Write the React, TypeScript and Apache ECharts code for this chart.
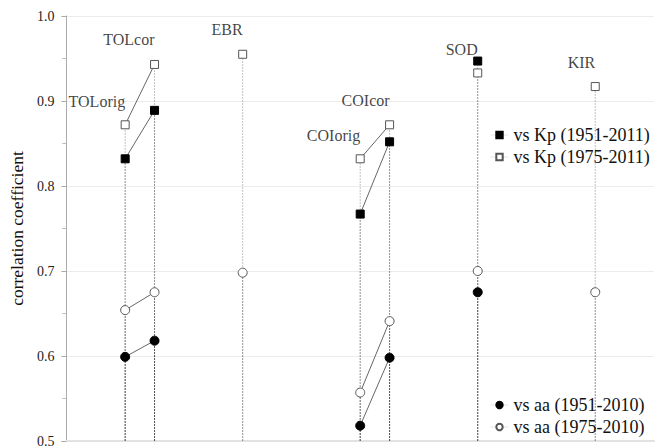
import React, { useEffect, useRef } from "react";
import * as echarts from "echarts";

const stations = ["TOLorig", "TOLcor", "EBR", "COIorig", "COIcor", "SOD", "KIR"];
const groups = ["TOL", "TOL", "EBR", "COI", "COI", "SOD", "KIR"];
const xPos = [2, 3, 6, 10, 11, 14, 18];
const labelY = [0.9, 0.972, 0.984, 0.86, 0.901, 0.961, 0.945];

const kp51 = [0.832, 0.889, null, 0.767, 0.852, 0.947, null];
const kp75 = [0.872, 0.943, 0.955, 0.832, 0.872, 0.933, 0.917];
const aa51 = [0.599, 0.618, null, 0.518, 0.598, 0.675, null];
const aa75 = [0.654, 0.675, 0.698, 0.557, 0.641, 0.7, 0.675];

const seriesNames = [
  "vs Kp (1951-2011)",
  "vs Kp (1975-2011)",
  "vs aa (1951-2010)",
  "vs aa (1975-2010)",
];
const yTicks = [0.5, 0.6, 0.7, 0.8, 0.9, 1.0];

const FONT = "Liberation Serif";

function lineData(vals: (number | null)[]) {
  const out: any[] = [];
  vals.forEach((v, i) => {
    if (v == null) return;
    out.push([xPos[i], v]);
    if (i === vals.length - 1 || groups[i + 1] !== groups[i]) {
      out.push([xPos[i] + 0.5, "-"]);
    }
  });
  return out;
}

function dropData(vals: (number | null)[]) {
  const out: any[] = [];
  vals.forEach((v, i) => {
    if (v == null) return;
    out.push([xPos[i], yTicks[0]]);
    out.push([xPos[i], v]);
    out.push([xPos[i], "-"]);
  });
  return out;
}

export default function App() {
  const ref = useRef<HTMLDivElement>(null);
  useEffect(() => {
    if (!ref.current) return;
    const chart = echarts.init(ref.current, undefined, { renderer: "svg" });
    const allVals = [kp51, kp75, aa51, aa75];
    const styles = [
      { symbol: "rect", size: 8, filled: true },
      { symbol: "rect", size: 8, filled: false },
      { symbol: "circle", size: 9, filled: true },
      { symbol: "circle", size: 9, filled: false },
    ];
    const dropSeries = allVals.map((vals, k) => ({
      type: "line",
      name: "drop" + k,
      data: dropData(vals),
      showSymbol: false,
      symbol: "none",
      silent: true,
      z: 1,
      lineStyle: { color: "rgba(0,0,0,0.24)", width: 1, type: [2, 1] },
      connectNulls: false,
    }));
    const mainSeries = allVals.map((vals, k) => ({
      type: "line",
      name: seriesNames[k],
      data: lineData(vals),
      symbol: styles[k].symbol,
      symbolSize: styles[k].size,
      showAllSymbol: true,
      connectNulls: false,
      z: 3,
      itemStyle: styles[k].filled
        ? { color: "#000", borderColor: "#000", borderWidth: 1 }
        : { color: "#fff", borderColor: "#555", borderWidth: 1 },
      lineStyle: { color: "#666", width: 1 },
    }));
    const labelSeries = {
      type: "scatter",
      name: "labels",
      symbolSize: 0,
      silent: true,
      data: stations.map((s, i) => ({ value: [xPos[i], labelY[i]], name: s })),
      label: {
        show: true,
        position: [0, 0],
        align: "right",
        verticalAlign: "middle",
        formatter: (p: any) => p.name,
        fontFamily: FONT,
        fontSize: 16,
        color: "#111",
      },
      z: 4,
    };
    const legendCommon = {
      orient: "vertical",
      left: 490,
      padding: 0,
      itemWidth: 18,
      itemHeight: 8,
      itemGap: 4,
      textStyle: { fontFamily: FONT, fontSize: 18, color: "#111" },
      lineStyle: { color: "#e4e4e4", width: 1 },
    };
    chart.setOption({
      animation: false,
      grid: { left: 65, right: 10, top: 16, bottom: 7 },
      legend: [
        { ...legendCommon, top: 126, data: [seriesNames[0], seriesNames[1]] },
        { ...legendCommon, top: 396, data: [seriesNames[2], seriesNames[3]] },
      ],
      xAxis: {
        type: "value",
        min: 0,
        max: 20,
        axisLine: { show: true, lineStyle: { color: "#e2e2e2", width: 2 } },
        axisTick: { show: false },
        axisLabel: { show: false },
        splitLine: { show: false },
      },
      yAxis: {
        type: "value",
        min: 0.5,
        max: 1.0,
        interval: 0.1,
        name: "correlation coefficient",
        nameLocation: "middle",
        nameGap: 32,
        nameTextStyle: { fontFamily: FONT, fontSize: 17.5, color: "#111" },
        axisLine: { show: true, lineStyle: { color: "#aaa" } },
        axisTick: { show: true, length: 5, lineStyle: { color: "#aaa" } },
        minorTick: { show: true, splitNumber: 2, length: 4, lineStyle: { color: "#bbb" } },
        axisLabel: {
          fontFamily: FONT,
          fontSize: 14,
          color: "#222",
          margin: 12,
          formatter: (v: number) => v.toFixed(1),
        },
        splitLine: { show: true, lineStyle: { color: "#ececec", width: 1 } },
      },
      series: [...dropSeries, ...mainSeries, labelSeries],
    });
    return () => chart.dispose();
  }, []);
  return (
    <div
      ref={ref}
      style={{ position: "absolute", left: 0, top: 0, width: 664, height: 448, background: "#fff" }}
    />
  );
}
